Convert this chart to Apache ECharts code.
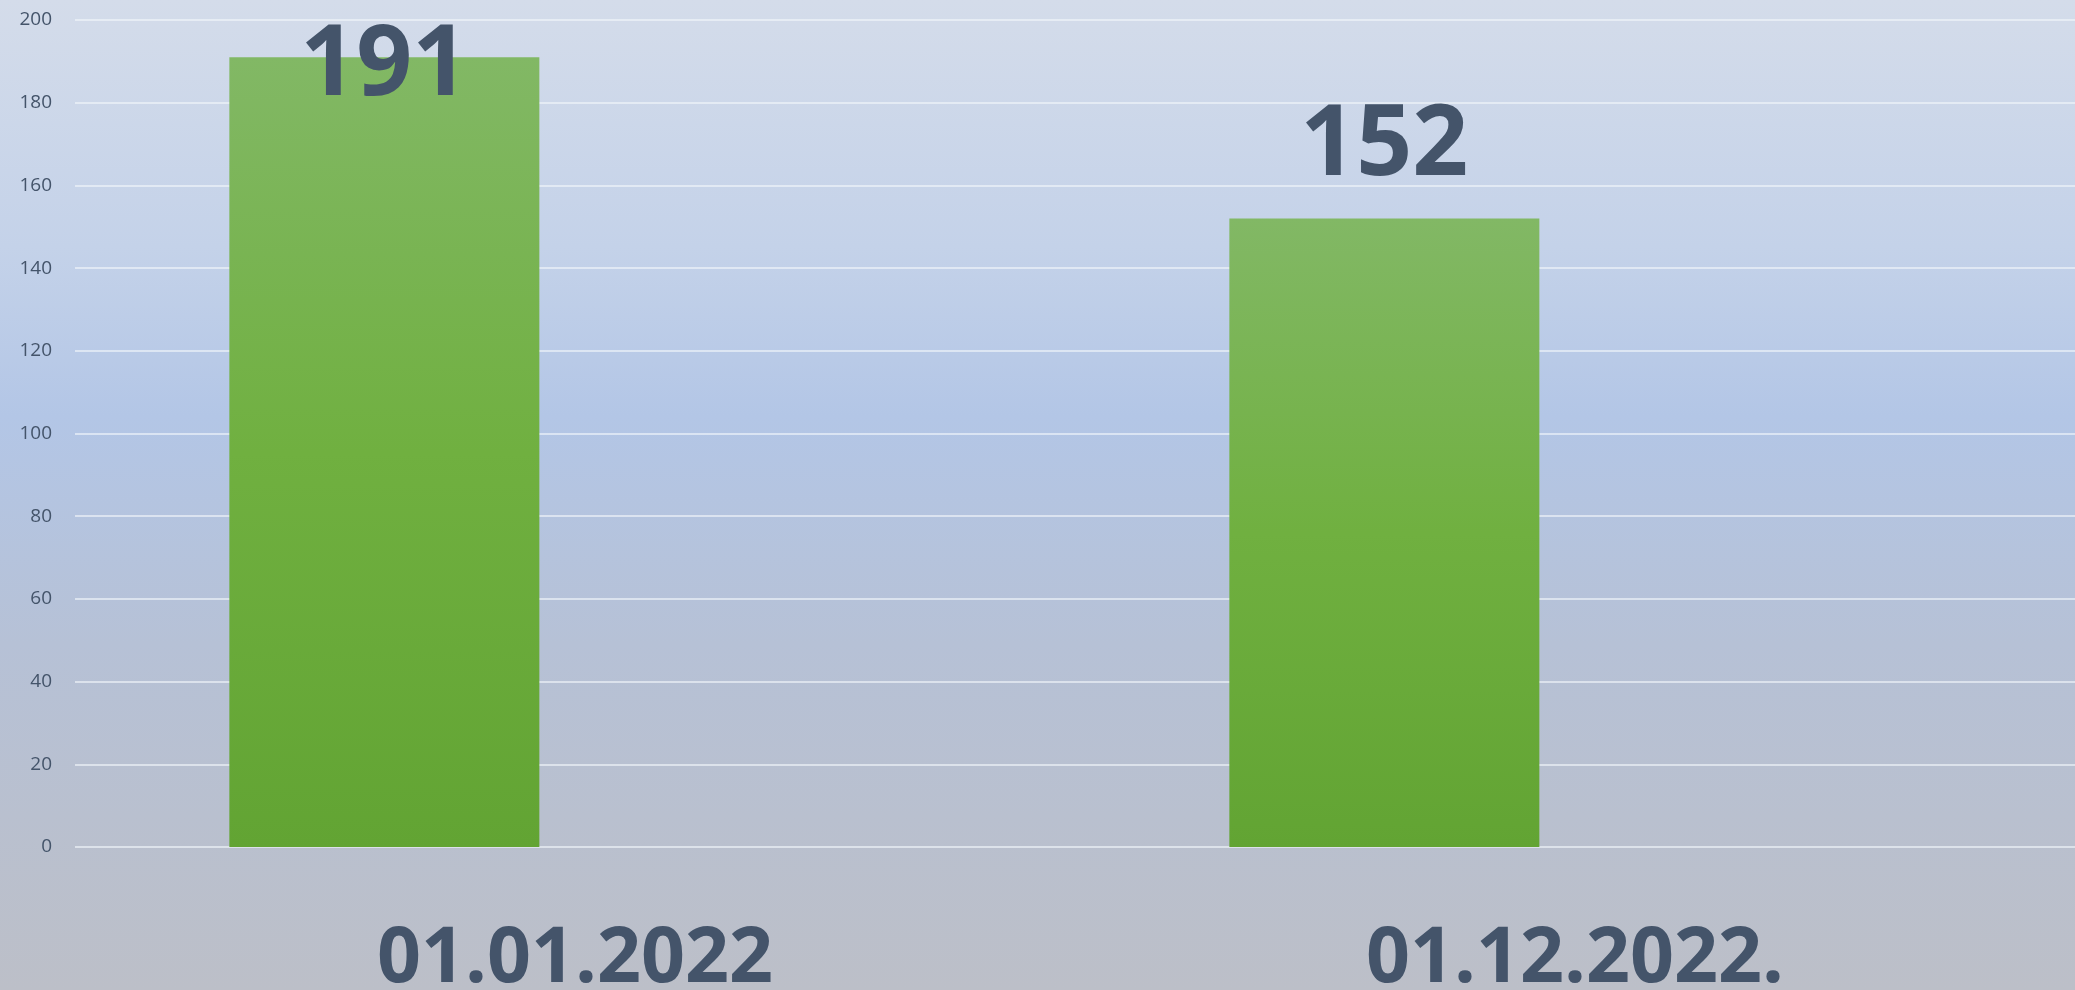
<!DOCTYPE html>
<html>
<head>
<meta charset="utf-8">
<script src="https://cdn.jsdelivr.net/npm/echarts@6/dist/echarts.min.js"></script>
<style>
  html, body { margin: 0; padding: 0; }
  #chart {
    width: 2075px; height: 990px;
    background: linear-gradient(to bottom, #d4dcea 0%, #c4d2e9 25%, #b3c6e6 42%, #b6c1d6 65%, #bcbfc8 100%);
  }
</style>
</head>
<body>
<div id="chart"></div>
<script>
// data
const dates = ['01.01.2022', '01.12.2022.'];
const counts = [191, 152];
const emptySeries = [null, null]; // второй ряд без значений, сдвигает столбцы влево

const textColor = '#44546a';

const chart = echarts.init(document.getElementById('chart'));

const option = {
  backgroundColor: 'transparent',
  animation: false,
  grid: { left: 75, right: 0, top: 20, bottom: 143, outerBoundsMode: 'none' },
  xAxis: {
    type: 'category',
    data: dates,
    axisLine: { show: false },
    axisTick: { show: false },
    axisLabel: {
      color: textColor,
      fontFamily: 'Open Sans',
      fontWeight: 'bold',
      fontSize: 77,
      margin: 75
    }
  },
  yAxis: {
    type: 'value',
    min: 0,
    max: 200,
    interval: 20,
    axisLine: { show: false },
    axisTick: { show: false },
    axisLabel: {
      color: textColor,
      fontFamily: 'Open Sans',
      fontSize: 19,
      margin: 23
    },
    splitLine: { lineStyle: { color: 'rgba(240,244,250,0.85)', width: 1.5 } }
  },
  series: [
    {
      type: 'bar',
      data: counts,
      barWidth: 310,
      barGap: '23%',
      itemStyle: {
        color: new echarts.graphic.LinearGradient(0, 0, 0, 1, [
          { offset: 0, color: '#82b865' },
          { offset: 0.5, color: '#70b040' },
          { offset: 1, color: '#62a433' }
        ])
      },
      label: {
        show: true,
        position: 'top',
        distance: 22,
        color: textColor,
        fontFamily: 'Open Sans',
        fontWeight: 'bold',
        fontSize: 98
      },
      // как в Excel: подпись не выходит за верх области
      labelLayout: function (params) {
        const r = params.labelRect;
        if (r.y < 0) {
          return {
            x: r.x + r.width / 2,
            y: r.height / 2 + 18,
            align: 'center',
            verticalAlign: 'middle'
          };
        }
      }
    },
    {
      type: 'bar',
      data: emptySeries,
      barWidth: 310
    }
  ]
};

chart.setOption(option);
</script>
</body>
</html>
